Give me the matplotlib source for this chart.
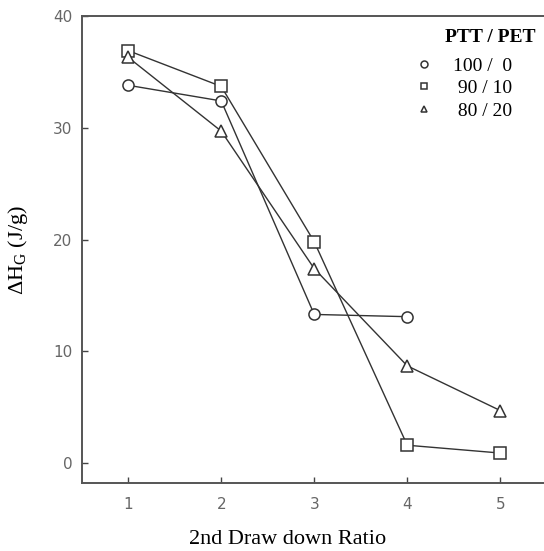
import matplotlib
matplotlib.use("Agg")
import matplotlib.pyplot as plt

plt.rcParams["mathtext.fontset"] = "custom"
plt.rcParams["mathtext.rm"] = "Liberation Serif"

# data
draw_ratio = [1, 2, 3, 4, 5]
ptt100 = [33.8, 32.4, 13.3, 13.1]
ptt90 = [36.9, 33.7, 19.8, 1.6, 0.9]
ptt80 = [36.3, 29.7, 17.4, 8.7, 4.7]
series_labels = ["100 /  0", " 90 / 10", " 80 / 20"]
y_ticks = [0, 10, 20, 30, 40]

fig = plt.figure(figsize=(5.44, 5.51), dpi=100)
ax = fig.add_axes([0.151, 0.123, 0.849, 0.848])

line_color = "#333333"
common = dict(color=line_color, lw=1.0, markerfacecolor="white",
              markeredgecolor=line_color, markeredgewidth=1.1, ms=8)
ax.plot(draw_ratio[:4], ptt100, marker="o", label=series_labels[0], **common)
ax.plot(draw_ratio, ptt90, marker="s", label=series_labels[1], **common)
ax.plot(draw_ratio, ptt80, marker="^", label=series_labels[2], **common)

ax.set_xlim(0.505, 5.47)
ax.set_ylim(-1.8, 40)
ax.set_xticks(draw_ratio)
ax.set_yticks(y_ticks)
ax.tick_params(direction="in", length=4, width=1, color="#444444",
               labelsize=11, labelcolor="#666666")
ax.tick_params(axis="x", pad=10)
ax.tick_params(axis="y", pad=7)
for lbl in ax.get_xticklabels() + ax.get_yticklabels():
    lbl.set_fontfamily("DejaVu Sans")

for side in ["left", "bottom", "top"]:
    ax.spines[side].set_color("#555555")
    ax.spines[side].set_linewidth(1.4)
ax.spines["right"].set_visible(False)

ax.set_xlabel("2nd Draw down Ratio", fontfamily="Liberation Serif",
              fontsize=16)
ax.xaxis.set_label_coords(0.444, -0.101)
ax.set_ylabel(r"$\Delta$H$_\mathrm{G}$ (J/g)", fontfamily="Liberation Serif",
              fontsize=16)
ax.yaxis.set_label_coords(-0.113, 0.5)

ax.text(0.883, 0.953, "PTT / PET", transform=ax.transAxes, ha="center",
        va="center", fontfamily="Liberation Serif", fontweight="bold",
        fontsize=14)

leg = ax.legend(loc="upper left", frameon=False,
                bbox_to_anchor=(0.72, 0.912), borderpad=0, borderaxespad=0,
                handlelength=1.0, handletextpad=0.95, labelspacing=0.25,
                prop={"family": "Liberation Serif", "size": 14})
for h in leg.legend_handles:
    h.set_linestyle("none")
    h.set_markersize(5)

plt.savefig("out.png", dpi=100)
plt.close()
